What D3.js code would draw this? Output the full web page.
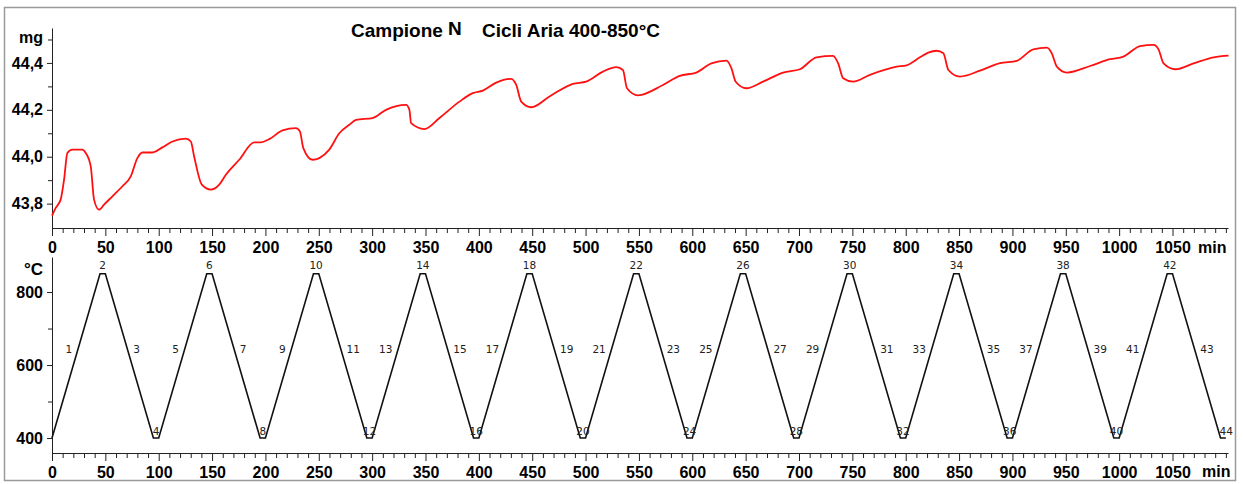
<!DOCTYPE html>
<html>
<head>
<meta charset="utf-8">
<script src="https://cdn.jsdelivr.net/npm/d3@7"></script>
<style>
  body { margin: 0; background: #fff; }
  svg { display: block; }
  .tick text { font-family: "Liberation Sans", Arial, sans-serif; font-weight: bold; font-size: 16px; fill: #000; }
</style>
</head>
<body>
<div id="chart"></div>
<script>
// Mass curve (min, mg)
let massTime = [0, 3.5, 8.1, 11.3, 14.4, 19, 28.4, 31.6, 36.3, 39.4, 44.1, 48.8, 56.6, 66, 73.8, 80, 84.7, 94.1,
  103.5, 112.9, 125.4, 130.1, 133.2, 140.4, 148.9, 156.7, 162.9, 175.4, 189.5, 195.7,
  203.6, 216, 228.6, 232.3, 235.5, 244.2, 250.5, 259.8, 269.2, 278.6, 284.9,
  300.5, 313, 331.8, 334.9, 336.5, 349, 363, 381.8, 394.3,
  403.7, 416.2, 430.3, 435, 439.7, 449.1, 466.2, 488.1,
  500.6, 516.2, 528.8, 535, 538.8, 549.1, 572.5, 588.2,
  603.8, 617.9, 632, 636.7, 640.7, 650.7, 666.3, 685.1,
  700.8, 716.4, 732, 736.7, 741.4, 750.8, 766.4, 791.5,
  800.8, 813.3, 821.1, 829, 835.3, 840, 850.8, 869.6, 888.4,
  904, 919.6, 932.2, 936.9, 941.6, 951, 972.8, 991.6,
  1004, 1019.7, 1032.2, 1036.9, 1041.6, 1052.6, 1069.7, 1088.6, 1102.5];
let massValue = [43.749, 43.782, 43.817, 43.902, 44.016, 44.030, 44.030, 44.016, 43.959, 43.817, 43.774, 43.796, 43.831, 43.874, 43.916, 43.994, 44.018, 44.018,
  44.040, 44.065, 44.077, 44.065, 44.001, 43.881, 43.860, 43.881, 43.923, 43.987, 44.061, 44.061,
  44.075, 44.112, 44.122, 44.108, 44.037, 43.987, 43.994, 44.030, 44.100, 44.136, 44.157,
  44.165, 44.200, 44.221, 44.200, 44.143, 44.118, 44.165, 44.235, 44.271,
  44.282, 44.316, 44.332, 44.306, 44.235, 44.211, 44.257, 44.311,
  44.320, 44.363, 44.382, 44.370, 44.292, 44.262, 44.306, 44.345,
  44.359, 44.398, 44.410, 44.377, 44.320, 44.292, 44.320, 44.359,
  44.373, 44.424, 44.430, 44.398, 44.335, 44.320, 44.349, 44.384,
  44.390, 44.424, 44.444, 44.452, 44.441, 44.370, 44.342, 44.367, 44.399,
  44.409, 44.458, 44.465, 44.441, 44.384, 44.359, 44.387, 44.416,
  44.427, 44.472, 44.477, 44.458, 44.398, 44.373, 44.398, 44.424, 44.431];

// Temperature programme (min, °C) and segment numbers
let tempTime = [0, 45, 50, 95, 100, 145, 150, 195, 200, 245, 250, 295, 300, 345, 350, 395,
  400, 445, 450, 495, 500, 545, 550, 595, 600, 645, 650, 695, 700, 745, 750, 795,
  800, 845, 850, 895, 900, 945, 950, 995, 1000, 1045, 1050, 1095, 1100];
let tempValue = [400, 850, 850, 400, 400, 850, 850, 400, 400, 850, 850, 400, 400, 850, 850, 400,
  400, 850, 850, 400, 400, 850, 850, 400, 400, 850, 850, 400, 400, 850, 850, 400,
  400, 850, 850, 400, 400, 850, 850, 400, 400, 850, 850, 400, 400];
let segmentNumbers = d3.range(1, 45);

// Axis ticks
let timeMajorTicks = [0, 50, 100, 150, 200, 250, 300, 350, 400, 450, 500, 550, 600, 650, 700, 750, 800, 850, 900, 950, 1000, 1050];
let timeMinorTicks = [10, 20, 30, 40, 60, 70, 80, 90, 110, 120, 130, 140, 160, 170, 180, 190, 210, 220, 230, 240, 260, 270, 280, 290,
  310, 320, 330, 340, 360, 370, 380, 390, 410, 420, 430, 440, 460, 470, 480, 490, 510, 520, 530, 540, 560, 570, 580, 590,
  610, 620, 630, 640, 660, 670, 680, 690, 710, 720, 730, 740, 760, 770, 780, 790, 810, 820, 830, 840, 860, 870, 880, 890,
  910, 920, 930, 940, 960, 970, 980, 990, 1010, 1020, 1030, 1040, 1060, 1070, 1080, 1090, 1100];
let massMajorTicks = [43.8, 44.0, 44.2, 44.4];
let massMinorTicks = [43.9, 44.1, 44.3, 44.5];
let tempMajorTicks = [400, 600, 800];
let tempMinorTicks = [500, 700];

let w = 1243;
let h = 484;

let svg = d3.select("#chart")
  .append("svg")
  .attr("width", w)
  .attr("height", h);

// outer frame
svg.append("rect")
  .attr("x", 4.5).attr("y", 7.5)
  .attr("width", 1231).attr("height", 473)
  .attr("fill", "none")
  .attr("stroke", "#9a9a9a")
  .attr("stroke-width", 1.5);

let x = d3.scaleLinear().domain([0, 1102]).range([52, 1228]);
let yMass = d3.scaleLinear().domain([43.696, 44.549]).range([228, 28]);
let yTemp = d3.scaleLinear().domain([359, 896]).range([453, 257]);

let commaFmt = d3.formatLocale({decimal: ",", thousands: ".", grouping: [3], currency: ["", ""]}).format(".1f");

function drawXAxis(yPos) {
  let g = svg.append("g").attr("transform", `translate(0,${yPos})`);
  g.append("g")
    .call(d3.axisBottom(x).tickValues(timeMajorTicks).tickSize(8).tickSizeOuter(0).tickPadding(6).tickFormat(d3.format("d")))
    .call(a => a.select(".domain").attr("stroke", "#222"))
    .call(a => a.selectAll(".tick line").attr("stroke", "#222"));
  g.append("g")
    .call(d3.axisBottom(x).tickValues(timeMinorTicks).tickSize(5).tickSizeOuter(0).tickFormat(""))
    .call(a => a.select(".domain").remove())
    .call(a => a.selectAll(".tick line").attr("stroke", "#222"));
  return g;
}

function drawYAxis(scale, major, minor, fmt) {
  let g = svg.append("g").attr("transform", "translate(52,0)");
  g.append("g")
    .call(d3.axisLeft(scale).tickValues(major).tickSize(5).tickSizeOuter(0).tickPadding(4).tickFormat(fmt))
    .call(a => a.select(".domain").attr("stroke", "#222"))
    .call(a => a.selectAll(".tick line").attr("stroke", "#222"));
  g.append("g")
    .call(d3.axisLeft(scale).tickValues(minor).tickSize(4).tickFormat(""))
    .call(a => a.select(".domain").remove())
    .call(a => a.selectAll(".tick line").attr("stroke", "#222"));
}

// ---- top: mass ----
drawXAxis(228);
drawYAxis(yMass, massMajorTicks, massMinorTicks, commaFmt);

let massLine = d3.line()
  .x((d, i) => x(massTime[i]))
  .y(d => yMass(d))
  .curve(d3.curveMonotoneX);

svg.append("path")
  .attr("d", massLine(massValue))
  .attr("fill", "none")
  .attr("stroke", "#ff1010")
  .attr("stroke-width", 1.8);

// ---- bottom: temperature ----
drawXAxis(453);
drawYAxis(yTemp, tempMajorTicks, tempMinorTicks, d3.format("d"));

let tempLine = d3.line()
  .x((d, i) => x(tempTime[i]))
  .y(d => yTemp(d));

svg.append("path")
  .attr("d", tempLine(tempValue))
  .attr("fill", "none")
  .attr("stroke", "#111")
  .attr("stroke-width", 1.6);

// segment labels
let labelT = 646;
let segLabels = svg.append("g")
  .attr("font-family", "'DejaVu Sans', Verdana, sans-serif")
  .attr("font-size", "10.5px")
  .attr("fill", "#222");

segLabels.selectAll("text")
  .data(segmentNumbers)
  .join("text")
  .each(function(n) {
    let t0 = tempTime[n - 1], t1 = tempTime[n];
    let v0 = tempValue[n - 1], v1 = tempValue[n];
    let el = d3.select(this);
    if (v0 === v1) {
      el.attr("x", x((t0 + t1) / 2) + (n === 44 ? 3 : 0))
        .attr("y", v0 > 600 ? yTemp(v0) - 5 : yTemp(v0) - 3)
        .attr("text-anchor", "middle");
    } else {
      let tm = t0 + (t1 - t0) * (labelT - v0) / (v1 - v0);
      if (v1 > v0) {
        el.attr("x", x(tm) - 6).attr("text-anchor", "end");
      } else {
        el.attr("x", x(tm) + 6).attr("text-anchor", "start");
      }
      el.attr("y", yTemp(labelT) + 5);
    }
  })
  .text(n => n);

// ---- labels ----
let bold = "'Liberation Sans', Arial, sans-serif";
function label(txt, lx, ly, size, anchor) {
  return svg.append("text")
    .attr("x", lx).attr("y", ly)
    .attr("font-family", bold)
    .attr("font-weight", "bold")
    .attr("font-size", size + "px")
    .attr("text-anchor", anchor || "start")
    .text(txt);
}

label("mg", 43, 43, 16, "end");
label("°C", 43, 275, 17, "end");
label("min", 1198, 253, 16);
label("min", 1202, 477, 16);

label("Campione", 351, 37, 19);
label("N", 448, 35, 19);
label("Cicli Aria 400-850°C", 482, 37, 19);
</script>
</body>
</html>
